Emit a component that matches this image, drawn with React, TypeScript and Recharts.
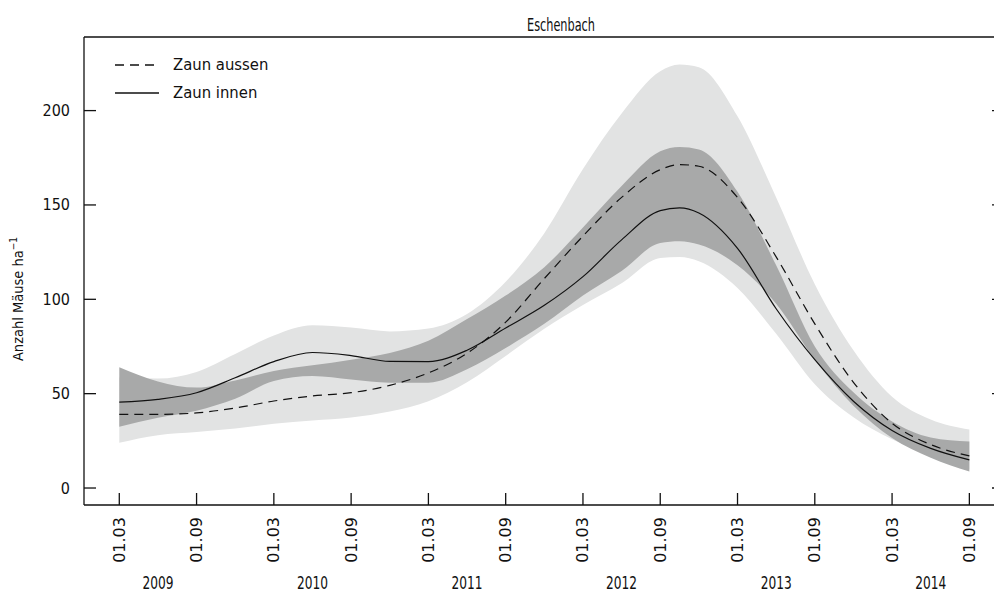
import { ComposedChart, Area, Line, XAxis, YAxis, Legend } from 'recharts'

// months counted from January 2009 (2 = 01.03.2009)
const months = [2, 5, 8, 11, 14, 17, 20, 23, 26, 29, 32, 35, 38, 41, 44, 45.5, 47, 50, 53, 56, 59, 62, 65, 68]
const innen = [45.5, 47, 50.5, 58.4, 67, 71.8, 70.2, 67.1, 67, 73, 84.8, 96.8, 112, 131.5, 147, 148.4, 145.7, 127, 95, 68, 46, 30.5, 21, 14.9]
const aussen = [39, 39, 39.8, 42.4, 46.1, 48.8, 50.5, 54.4, 61, 71.4, 87.9, 111, 133.5, 154, 168.7, 171.4, 170.5, 154, 122.5, 87, 56, 34.3, 23, 17]
const innenLow = [32.5, 37.2, 41, 47.3, 56.7, 59.3, 57.5, 55.8, 55.8, 62.9, 74.2, 87, 102, 115, 129.8, 130.7, 129, 118, 97.6, 68, 43.6, 26.5, 16, 8.7]
const innenHigh = [64, 56.5, 53.2, 57, 62, 65, 68, 71.5, 78, 89.5, 102, 117, 138, 160, 178.4, 180.7, 179.4, 157, 118, 75, 50.7, 35.3, 26.8, 24.6]
const aussenLow = [24, 28, 29.7, 31.5, 34, 35.8, 37.4, 40.5, 46, 56, 70, 84.4, 97, 108.5, 121.9, 122.4, 120.2, 106, 81.7, 55, 37.5, 25.8, 17.4, 10]
const aussenHigh = [58.5, 58, 61.5, 71, 80.8, 86.2, 85, 83, 84.5, 92.2, 109.3, 135, 169, 198.4, 220.8, 224.4, 223, 197, 154, 108, 73, 48.4, 36.3, 31]

const dateTicks = [2, 8, 14, 20, 26, 32, 38, 44, 50, 56, 62, 68]
const dateLabels = ['01.03', '01.09', '01.03', '01.09', '01.03', '01.09', '01.03', '01.09', '01.03', '01.09', '01.03', '01.09']
const yearTicks = [5, 17, 29, 41, 53, 65]
const yearLabels = ['2009', '2010', '2011', '2012', '2013', '2014']
const yTicks = [0, 50, 100, 150, 200]

const rows = months.map((m, i) => ({
  m,
  innen: innen[i],
  aussen: aussen[i],
  innenBand: [innenLow[i], innenHigh[i]],
  aussenBand: [aussenLow[i], aussenHigh[i]],
}))

const narrow = "'DejaVu Sans Condensed', 'DejaVu Sans', sans-serif"
const wide = "'DejaVu Sans', sans-serif"
const ink = '#111'
const xDomain = [-0.74, 70.69]
const yDomain = [-9, 239]

// ticks point inward, so the tick marks are drawn by the tick components
function DateTick({ x, y, payload }: any) {
  const label = dateLabels[dateTicks.indexOf(payload.value)]
  return (
    <g>
      <line x1={x} x2={x} y1={y - 12} y2={y - 24} stroke={ink} strokeWidth={1.3} />
      <text x={x} y={y} transform={`rotate(-90 ${x} ${y})`} textAnchor="end" dominantBaseline="central"
        fontFamily={wide} fontSize={16} fill={ink}>
        {label}
      </text>
    </g>
  )
}

function YearTick({ x, y, payload }: any) {
  const label = yearLabels[yearTicks.indexOf(payload.value)]
  return (
    <text x={x} y={y} textAnchor="middle" dominantBaseline="central" fontFamily={narrow} fontSize={18}
      textLength={31} lengthAdjust="spacingAndGlyphs" fill={ink}>
      {label}
    </text>
  )
}

function LeftTick({ x, y, payload }: any) {
  return (
    <g>
      <line x1={x + 14} x2={x + 26} y1={y} y2={y} stroke={ink} strokeWidth={1.3} />
      <text x={x} y={y} textAnchor="end" dominantBaseline="central" fontFamily={narrow} fontSize={16} fill={ink}>
        {payload.value}
      </text>
    </g>
  )
}

function RightTick({ x, y }: any) {
  return <line x1={x - 12} x2={x} y1={y} y2={y} stroke={ink} strokeWidth={1.3} />
}

function LegendBox({ payload }: any) {
  return (
    <div>
      {(payload || []).filter((p: any) => p.type !== 'none').map((entry: any) => (
        <div key={entry.value} style={{ display: 'flex', alignItems: 'center', height: 28 }}>
          <svg width={48} height={10}>
            <line x1={3} y1={5} x2={47} y2={5} stroke={ink} strokeWidth={1.3}
              strokeDasharray={entry.payload?.strokeDasharray} />
          </svg>
          <span style={{ marginLeft: 13, fontFamily: narrow, fontSize: 16.5, color: ink, lineHeight: '28px' }}>
            {entry.value}
          </span>
        </div>
      ))}
    </div>
  )
}

export default function App() {
  return (
    <div style={{ position: 'absolute', left: 0, top: 0, width: 994, height: 592, overflow: 'hidden', background: '#fff' }}>
      <ComposedChart width={1010} height={592} data={rows} margin={{ top: 36, right: 5, bottom: 0, left: 0 }}>
        <XAxis xAxisId="main" dataKey="m" type="number" domain={xDomain} allowDataOverflow ticks={dateTicks}
          interval={0} height={60} tickSize={0} tickMargin={12} tickLine={false}
          axisLine={{ stroke: ink, strokeWidth: 1.3 }} tick={<DateTick />} />
        <XAxis xAxisId="year" dataKey="m" type="number" domain={xDomain} allowDataOverflow ticks={yearTicks}
          interval={0} height={27} tickSize={0} tickMargin={17} axisLine={false} tickLine={false}
          tick={<YearTick />} />
        <XAxis xAxisId="top" orientation="top" dataKey="m" type="number" domain={xDomain} allowDataOverflow
          height={1} tick={false} tickLine={false} axisLine={{ stroke: ink, strokeWidth: 1.3 }} />
        <YAxis yAxisId="left" type="number" domain={yDomain} allowDataOverflow ticks={yTicks} interval={0}
          width={84} tickSize={0} tickMargin={14} tickLine={false}
          axisLine={{ stroke: ink, strokeWidth: 1.3 }} tick={<LeftTick />} />
        <YAxis yAxisId="right" orientation="right" type="number" domain={yDomain} allowDataOverflow ticks={yTicks}
          interval={0} width={1} tickSize={0} tickMargin={0} tickLine={false}
          axisLine={{ stroke: ink, strokeWidth: 1.3 }} tick={<RightTick />} />

        <Area xAxisId="main" yAxisId="left" dataKey="aussenBand" type="monotone" stroke="none" fill="#e2e3e3"
          fillOpacity={1} legendType="none" isAnimationActive={false} />
        <Area xAxisId="main" yAxisId="left" dataKey="innenBand" type="monotone" stroke="none" fill="#a8a9a9"
          fillOpacity={1} legendType="none" isAnimationActive={false} />
        <Line xAxisId="main" yAxisId="left" dataKey="aussen" name="Zaun aussen" type="monotone" stroke={ink}
          strokeWidth={1.2} strokeDasharray="9 6" dot={false} isAnimationActive={false} />
        <Line xAxisId="main" yAxisId="left" dataKey="innen" name="Zaun innen" type="monotone" stroke={ink}
          strokeWidth={1.2} dot={false} isAnimationActive={false} />

        <Legend layout="vertical" align="center" verticalAlign="middle" content={<LegendBox />}
          wrapperStyle={{ left: 112, top: 51, width: 'auto', height: 'auto' }} />

        <text x={561} y={25} textAnchor="middle" dominantBaseline="central" fontFamily={narrow} fontSize={17}
          textLength={68} lengthAdjust="spacingAndGlyphs" fill={ink}>
          Eschenbach
        </text>
        <text x={18} y={299} transform="rotate(-90 18 299)" textAnchor="middle" dominantBaseline="central"
          fontFamily={narrow} fontSize={14.5} fill={ink}>
          Anzahl Mäuse ha<tspan fontSize={10} dy={-5}>−1</tspan>
        </text>
      </ComposedChart>
    </div>
  )
}
